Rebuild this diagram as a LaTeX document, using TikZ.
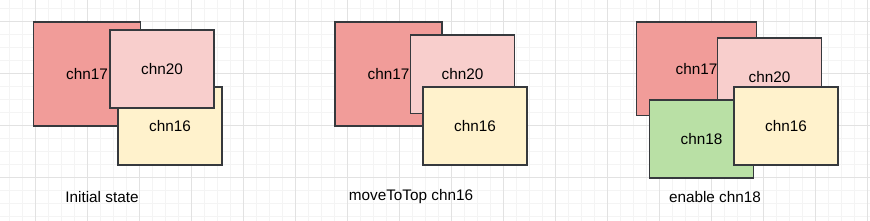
\documentclass[tikz,border=0pt]{standalone}
\usepackage{fontspec}
\setmainfont{Liberation Sans}
\definecolor{gridminor}{HTML}{F4F4F4}
\definecolor{gridmajor}{HTML}{E2E2E2}
\definecolor{edge}{HTML}{36393D}
\definecolor{redfill}{HTML}{F19C99}
\definecolor{pinkfill}{HTML}{F8CECC}
\definecolor{yellowfill}{HTML}{FFF2CC}
\definecolor{greenfill}{HTML}{B9E0A5}
\tikzset{
  chnbox/.style={draw=edge, line width=1.5pt, inner sep=0pt, text=black,
    font=\fontsize{15.3}{18}\selectfont},
  caption/.style={inner sep=0pt, text=black, font=\fontsize{15.3}{18}\selectfont}
}
\begin{document}
\begin{tikzpicture}[x=1pt,y=-1pt]

\useasboundingbox (0,0) rectangle (870,221);
\fill[white] (0,0) rectangle (870,221);

% background grid
\foreach \gx in {0,...,66} \draw[gridminor,line width=0.8pt] (9.5+13*\gx,0) -- (9.5+13*\gx,221);
\foreach \gy in {0,...,16} \draw[gridminor,line width=0.8pt] (0,8.3+13*\gy) -- (870,8.3+13*\gy);
\foreach \gx in {0,...,16} \draw[gridmajor,line width=0.8pt] (35.5+52*\gx,0) -- (35.5+52*\gx,221);
\foreach \gy in {0,...,3} \draw[gridmajor,line width=0.8pt] (0,21.3+52*\gy) -- (870,21.3+52*\gy);

% initial state
\node[chnbox,fill=redfill,minimum width=107pt,minimum height=104pt] (a17) at (87,74) {chn17};
\node[chnbox,fill=yellowfill,minimum width=104pt,minimum height=78pt] (a16) at (170,126) {chn16};
\node[chnbox,fill=pinkfill,minimum width=104pt,minimum height=78pt] (a20) at (162,69) {chn20};
\node[caption] (acap) at (102,196.7) {Initial state};

% moveToTop chn16
\node[chnbox,fill=redfill,minimum width=107pt,minimum height=104pt] (b17) at (388.5,74) {chn17};
\node[chnbox,fill=pinkfill,minimum width=104pt,minimum height=78.5pt] (b20) at (462.5,74.2) {chn20};
\node[chnbox,fill=yellowfill,minimum width=104pt,minimum height=78pt] (b16) at (475,126) {chn16};
\node[caption] (bcap) at (411,196.7) {moveToTop chn16};

% enable chn18
\node[chnbox,fill=redfill,minimum width=120pt,minimum height=93.5pt] (c17) at (696.5,68.7) {chn17};
\node[chnbox,fill=pinkfill,minimum width=104pt,minimum height=77.5pt] (c20) at (769.5,76.7) {chn20};
\node[chnbox,fill=greenfill,minimum width=104pt,minimum height=78pt] (c18) at (701.5,139) {chn18};
\node[chnbox,fill=yellowfill,minimum width=104pt,minimum height=78pt] (c16) at (786,126) {chn16};
\node[caption] (ccap) at (715,196.7) {enable chn18};

\end{tikzpicture}
\end{document}
